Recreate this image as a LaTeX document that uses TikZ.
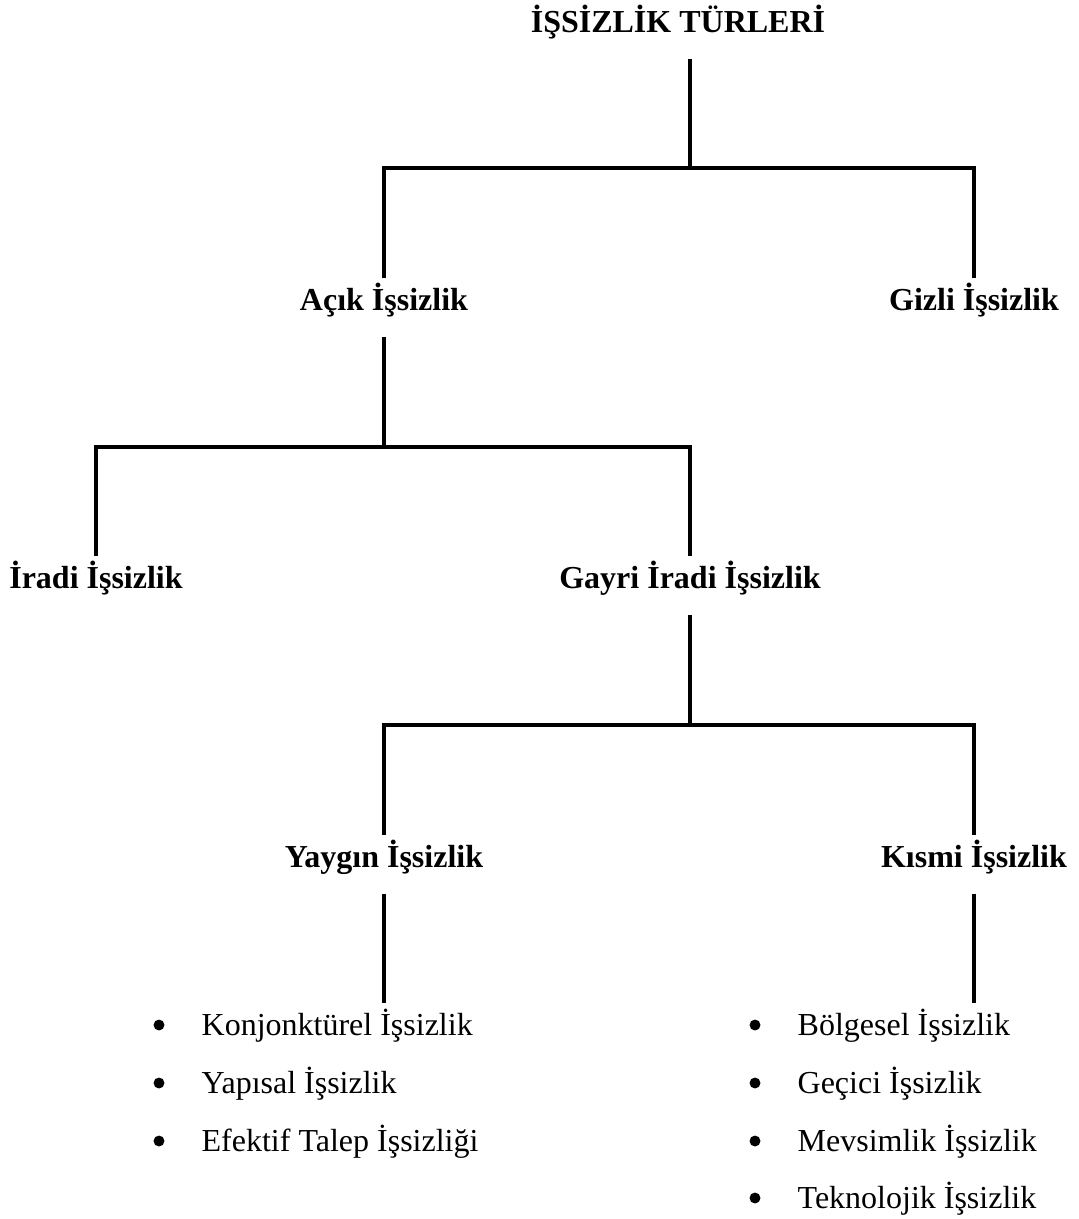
\documentclass[tikz,border=0pt]{standalone}
\usepackage{fontspec}
\setmainfont{Liberation Serif}

\begin{document}
\begin{tikzpicture}[x=0.375pt, y=-0.375pt, line width=1.25pt,
    kind/.style={font=\fontsize{12}{14}\selectfont\bfseries, inner sep=0pt,
        text height=11.25pt, text depth=9.4pt, anchor=base},
    item/.style={font=\fontsize{12}{14}\selectfont, inner sep=0pt,
        text height=11.25pt, text depth=3pt, anchor=base west},
    dot/.style={circle, fill, inner sep=0pt, minimum size=4.1pt}]
    \useasboundingbox (0,0) rectangle (1079,1219);

    % Tree levels
    \node[kind] (root) at (678,32) {İŞSİZLİK TÜRLERİ};
    \node[kind] (acik) at (384,310) {Açık İşsizlik};
    \node[kind] (gizli) at (974,310) {Gizli İşsizlik};
    \node[kind] (iradi) at (96,588) {İradi İşsizlik};
    \node[kind] (gayri) at (690,588) {Gayri İradi İşsizlik};
    \node[kind] (yaygin) at (384,867) {Yaygın İşsizlik};
    \node[kind] (kismi) at (974,867) {Kısmi İşsizlik};

    % Junctions
    \coordinate (j1) at (690,168);
    \coordinate (j2) at (384,447);
    \coordinate (j3) at (690,725);

    % Connectors
    \draw (j1 |- root.south) -- (j1);
    \draw (acik.north) |- (j1) -| (gizli.north);
    \draw (acik.south) -- (j2);
    \draw (iradi.north) |- (j2) -| (gayri.north);
    \draw (gayri.south) -- (j3);
    \draw (yaygin.north) |- (j3) -| (kismi.north);

    % Yaygin list
    \node[dot] (d1) at (159,1025) {};
    \node[item] (konj) at (200,1035) {Konjonktürel İşsizlik};
    \node[dot] (d2) at (159,1083) {};
    \node[item] (yapi) at (200,1093) {Yapısal İşsizlik};
    \node[dot] (d3) at (159,1141) {};
    \node[item] (efek) at (200,1151) {Efektif Talep İşsizliği};

    % Kismi list
    \node[dot] (d4) at (755,1025) {};
    \node[item] (bolge) at (796,1035) {Bölgesel İşsizlik};
    \node[dot] (d5) at (755,1083) {};
    \node[item] (gecici) at (796,1093) {Geçici İşsizlik};
    \node[dot] (d6) at (755,1141) {};
    \node[item] (mevsim) at (796,1151) {Mevsimlik İşsizlik};
    \node[dot] (d7) at (755,1198) {};
    \node[item] (tekno) at (796,1208) {Teknolojik İşsizlik};

    \draw (yaygin.south) -- (yaygin.south |- konj.north);
    \draw (kismi.south) -- (kismi.south |- bolge.north);
\end{tikzpicture}
\end{document}
